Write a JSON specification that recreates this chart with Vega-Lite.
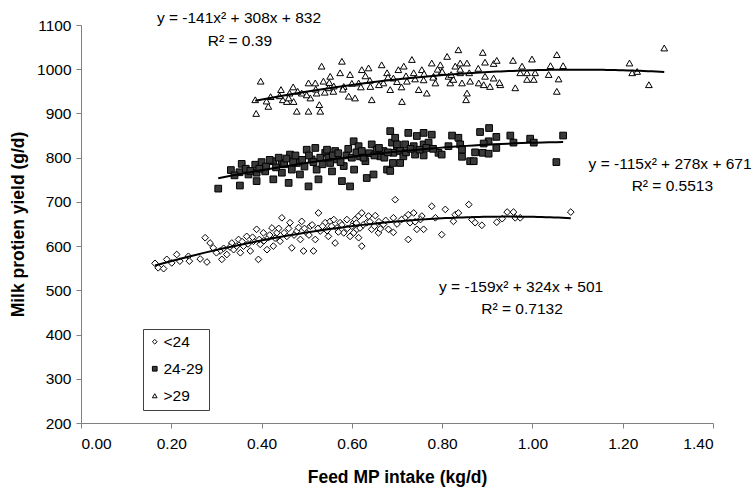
{
  "$schema": "https://vega.github.io/schema/vega-lite/v6.json",
  "width": 632,
  "height": 398,
  "autosize": "none",
  "padding": {"left": 81, "top": 25, "right": 43, "bottom": 64},
  "background": "white",
  "config": {
    "view": {"stroke": null},
    "font": "Liberation Sans",
    "axis": {
      "grid": false,
      "labelFont": "Liberation Sans",
      "labelFontSize": 15.5,
      "labelColor": "black",
      "titleFont": "Liberation Sans",
      "titleFontSize": 17.5,
      "titleFontWeight": "bold",
      "titleColor": "black",
      "domainColor": "#808080",
      "tickColor": "#808080",
      "tickSize": 5
    },
    "legend": {
      "orient": "none",
      "legendX": 62,
      "legendY": 304,
      "padding": 5,
      "strokeColor": "#404040",
      "fillColor": "white",
      "labelFont": "Liberation Sans",
      "labelFontSize": 15.5,
      "labelColor": "black",
      "symbolSize": 22,
      "symbolStrokeColor": "black",
      "symbolStrokeWidth": 1,
      "symbolOffset": -1,
      "rowPadding": 10,
      "labelOffset": 1,
      "cornerRadius": 0
    }
  },
  "datasets": {
    "pts": [
      {"intake":0.164,"yield":561,"group":"<24"},{"intake":0.171,"yield":551,"group":"<24"},{"intake":0.183,"yield":549,"group":"<24"},{"intake":0.190,"yield":570,"group":"<24"},{"intake":0.201,"yield":562,"group":"<24"},{"intake":0.212,"yield":581,"group":"<24"},{"intake":0.219,"yield":566,"group":"<24"},{"intake":0.238,"yield":577,"group":"<24"},{"intake":0.240,"yield":566,"group":"<24"},{"intake":0.264,"yield":571,"group":"<24"},{"intake":0.275,"yield":619,"group":"<24"},{"intake":0.279,"yield":564,"group":"<24"},{"intake":0.286,"yield":607,"group":"<24"},{"intake":0.293,"yield":596,"group":"<24"},{"intake":0.308,"yield":589,"group":"<24"},{"intake":0.312,"yield":570,"group":"<24"},{"intake":0.323,"yield":581,"group":"<24"},{"intake":0.334,"yield":607,"group":"<24"},{"intake":0.338,"yield":592,"group":"<24"},{"intake":0.349,"yield":615,"group":"<24"},{"intake":0.353,"yield":585,"group":"<24"},{"intake":0.360,"yield":600,"group":"<24"},{"intake":0.367,"yield":622,"group":"<24"},{"intake":0.375,"yield":589,"group":"<24"},{"intake":0.382,"yield":611,"group":"<24"},{"intake":0.389,"yield":638,"group":"<24"},{"intake":0.393,"yield":570,"group":"<24"},{"intake":0.397,"yield":604,"group":"<24"},{"intake":0.404,"yield":630,"group":"<24"},{"intake":0.412,"yield":592,"group":"<24"},{"intake":0.415,"yield":619,"group":"<24"},{"intake":0.423,"yield":641,"group":"<24"},{"intake":0.426,"yield":600,"group":"<24"},{"intake":0.434,"yield":630,"group":"<24"},{"intake":0.445,"yield":664,"group":"<24"},{"intake":0.441,"yield":611,"group":"<24"},{"intake":0.456,"yield":622,"group":"<24"},{"intake":0.463,"yield":653,"group":"<24"},{"intake":0.467,"yield":596,"group":"<24"},{"intake":0.478,"yield":634,"group":"<24"},{"intake":0.486,"yield":615,"group":"<24"},{"intake":0.489,"yield":656,"group":"<24"},{"intake":0.493,"yield":589,"group":"<24"},{"intake":0.500,"yield":630,"group":"<24"},{"intake":0.508,"yield":645,"group":"<24"},{"intake":0.515,"yield":589,"group":"<24"},{"intake":0.519,"yield":615,"group":"<24"},{"intake":0.526,"yield":675,"group":"<24"},{"intake":0.530,"yield":634,"group":"<24"},{"intake":0.541,"yield":653,"group":"<24"},{"intake":0.548,"yield":622,"group":"<24"},{"intake":0.552,"yield":656,"group":"<24"},{"intake":0.563,"yield":607,"group":"<24"},{"intake":0.567,"yield":641,"group":"<24"},{"intake":0.574,"yield":653,"group":"<24"},{"intake":0.582,"yield":630,"group":"<24"},{"intake":0.589,"yield":660,"group":"<24"},{"intake":0.596,"yield":622,"group":"<24"},{"intake":0.604,"yield":653,"group":"<24"},{"intake":0.611,"yield":638,"group":"<24"},{"intake":0.615,"yield":668,"group":"<24"},
      {"intake":0.696,"yield":705,"group":"<24"},{"intake":0.607,"yield":660,"group":"<24"},{"intake":0.622,"yield":675,"group":"<24"},{"intake":0.637,"yield":668,"group":"<24"},{"intake":0.652,"yield":669,"group":"<24"},{"intake":0.618,"yield":641,"group":"<24"},{"intake":0.633,"yield":653,"group":"<24"},{"intake":0.644,"yield":638,"group":"<24"},{"intake":0.659,"yield":630,"group":"<24"},{"intake":0.615,"yield":619,"group":"<24"},{"intake":0.622,"yield":600,"group":"<24"},{"intake":0.604,"yield":630,"group":"<24"},{"intake":0.692,"yield":664,"group":"<24"},{"intake":0.681,"yield":638,"group":"<24"},{"intake":0.692,"yield":631,"group":"<24"},{"intake":0.718,"yield":664,"group":"<24"},{"intake":0.729,"yield":653,"group":"<24"},{"intake":0.737,"yield":675,"group":"<24"},{"intake":0.725,"yield":615,"group":"<24"},{"intake":0.744,"yield":638,"group":"<24"},{"intake":0.755,"yield":668,"group":"<24"},{"intake":0.759,"yield":638,"group":"<24"},{"intake":0.777,"yield":690,"group":"<24"},{"intake":0.785,"yield":664,"group":"<24"},{"intake":0.799,"yield":626,"group":"<24"},{"intake":0.807,"yield":683,"group":"<24"},{"intake":0.825,"yield":656,"group":"<24"},{"intake":0.829,"yield":671,"group":"<24"},{"intake":0.836,"yield":675,"group":"<24"},{"intake":0.859,"yield":694,"group":"<24"},{"intake":0.866,"yield":660,"group":"<24"},{"intake":0.873,"yield":653,"group":"<24"},{"intake":0.888,"yield":647,"group":"<24"},{"intake":0.921,"yield":654,"group":"<24"},{"intake":0.933,"yield":662,"group":"<24"},{"intake":0.944,"yield":677,"group":"<24"},{"intake":0.958,"yield":677,"group":"<24"},{"intake":0.962,"yield":664,"group":"<24"},{"intake":0.973,"yield":664,"group":"<24"},{"intake":1.085,"yield":677,"group":"<24"},{"intake":0.670,"yield":649,"group":"<24"},{"intake":0.663,"yield":639,"group":"<24"},{"intake":0.725,"yield":671,"group":"<24"},{"intake":0.752,"yield":660,"group":"<24"},
      {"intake":0.300,"yield":585,"group":"<24"},{"intake":0.316,"yield":595,"group":"<24"},{"intake":0.330,"yield":598,"group":"<24"},{"intake":0.345,"yield":600,"group":"<24"},{"intake":0.357,"yield":610,"group":"<24"},{"intake":0.370,"yield":605,"group":"<24"},{"intake":0.380,"yield":620,"group":"<24"},{"intake":0.395,"yield":615,"group":"<24"},{"intake":0.405,"yield":612,"group":"<24"},{"intake":0.418,"yield":625,"group":"<24"},{"intake":0.430,"yield":618,"group":"<24"},{"intake":0.438,"yield":640,"group":"<24"},{"intake":0.450,"yield":630,"group":"<24"},{"intake":0.460,"yield":640,"group":"<24"},{"intake":0.472,"yield":625,"group":"<24"},{"intake":0.482,"yield":642,"group":"<24"},{"intake":0.495,"yield":640,"group":"<24"},{"intake":0.505,"yield":625,"group":"<24"},{"intake":0.512,"yield":648,"group":"<24"},{"intake":0.525,"yield":640,"group":"<24"},{"intake":0.535,"yield":645,"group":"<24"},{"intake":0.545,"yield":635,"group":"<24"},{"intake":0.555,"yield":645,"group":"<24"},{"intake":0.560,"yield":660,"group":"<24"},{"intake":0.570,"yield":632,"group":"<24"},{"intake":0.578,"yield":648,"group":"<24"},{"intake":0.590,"yield":640,"group":"<24"},{"intake":0.600,"yield":645,"group":"<24"},{"intake":0.610,"yield":652,"group":"<24"},{"intake":0.625,"yield":648,"group":"<24"},{"intake":0.640,"yield":655,"group":"<24"},{"intake":0.650,"yield":645,"group":"<24"},{"intake":0.660,"yield":655,"group":"<24"},{"intake":0.675,"yield":658,"group":"<24"},{"intake":0.700,"yield":650,"group":"<24"},{"intake":0.710,"yield":660,"group":"<24"},{"intake":0.740,"yield":655,"group":"<24"},
      {"intake":0.304,"yield":730,"group":"24-29"},{"intake":0.332,"yield":772,"group":"24-29"},{"intake":0.352,"yield":737,"group":"24-29"},{"intake":0.356,"yield":786,"group":"24-29"},{"intake":0.351,"yield":767,"group":"24-29"},{"intake":0.371,"yield":762,"group":"24-29"},{"intake":0.386,"yield":784,"group":"24-29"},{"intake":0.389,"yield":766,"group":"24-29"},{"intake":0.389,"yield":747,"group":"24-29"},{"intake":0.408,"yield":769,"group":"24-29"},{"intake":0.426,"yield":751,"group":"24-29"},{"intake":0.426,"yield":792,"group":"24-29"},{"intake":0.445,"yield":788,"group":"24-29"},{"intake":0.445,"yield":766,"group":"24-29"},{"intake":0.463,"yield":807,"group":"24-29"},{"intake":0.460,"yield":743,"group":"24-29"},{"intake":0.467,"yield":773,"group":"24-29"},{"intake":0.478,"yield":788,"group":"24-29"},{"intake":0.485,"yield":762,"group":"24-29"},{"intake":0.500,"yield":818,"group":"24-29"},{"intake":0.504,"yield":735,"group":"24-29"},{"intake":0.511,"yield":796,"group":"24-29"},{"intake":0.519,"yield":822,"group":"24-29"},{"intake":0.522,"yield":773,"group":"24-29"},{"intake":0.526,"yield":751,"group":"24-29"},{"intake":0.541,"yield":811,"group":"24-29"},{"intake":0.545,"yield":818,"group":"24-29"},{"intake":0.552,"yield":788,"group":"24-29"},{"intake":0.556,"yield":769,"group":"24-29"},{"intake":0.563,"yield":815,"group":"24-29"},{"intake":0.567,"yield":796,"group":"24-29"},{"intake":0.578,"yield":747,"group":"24-29"},{"intake":0.582,"yield":781,"group":"24-29"},{"intake":0.596,"yield":735,"group":"24-29"},{"intake":0.604,"yield":837,"group":"24-29"},{"intake":0.605,"yield":773,"group":"24-29"},{"intake":0.615,"yield":826,"group":"24-29"},{"intake":0.618,"yield":803,"group":"24-29"},{"intake":0.630,"yield":792,"group":"24-29"},{"intake":0.633,"yield":754,"group":"24-29"},{"intake":0.644,"yield":830,"group":"24-29"},{"intake":0.648,"yield":762,"group":"24-29"},{"intake":0.655,"yield":818,"group":"24-29"},{"intake":0.663,"yield":803,"group":"24-29"},{"intake":0.670,"yield":815,"group":"24-29"},{"intake":0.678,"yield":773,"group":"24-29"},{"intake":0.685,"yield":860,"group":"24-29"},{"intake":0.689,"yield":834,"group":"24-29"},{"intake":0.696,"yield":845,"group":"24-29"},{"intake":0.700,"yield":818,"group":"24-29"},{"intake":0.691,"yield":788,"group":"24-29"},
      {"intake":0.725,"yield":856,"group":"24-29"},{"intake":0.759,"yield":856,"group":"24-29"},{"intake":0.777,"yield":852,"group":"24-29"},{"intake":0.744,"yield":849,"group":"24-29"},{"intake":0.700,"yield":830,"group":"24-29"},{"intake":0.718,"yield":830,"group":"24-29"},{"intake":0.737,"yield":826,"group":"24-29"},{"intake":0.759,"yield":830,"group":"24-29"},{"intake":0.770,"yield":834,"group":"24-29"},{"intake":0.822,"yield":850,"group":"24-29"},{"intake":0.836,"yield":845,"group":"24-29"},{"intake":0.840,"yield":830,"group":"24-29"},{"intake":0.884,"yield":858,"group":"24-29"},{"intake":0.904,"yield":867,"group":"24-29"},{"intake":0.920,"yield":847,"group":"24-29"},{"intake":0.903,"yield":837,"group":"24-29"},{"intake":0.892,"yield":832,"group":"24-29"},{"intake":0.951,"yield":850,"group":"24-29"},{"intake":0.958,"yield":834,"group":"24-29"},{"intake":0.995,"yield":843,"group":"24-29"},{"intake":1.003,"yield":834,"group":"24-29"},{"intake":1.068,"yield":850,"group":"24-29"},{"intake":1.053,"yield":790,"group":"24-29"},{"intake":0.814,"yield":826,"group":"24-29"},{"intake":0.792,"yield":811,"group":"24-29"},{"intake":0.799,"yield":807,"group":"24-29"},{"intake":0.844,"yield":818,"group":"24-29"},{"intake":0.873,"yield":812,"group":"24-29"},{"intake":0.890,"yield":811,"group":"24-29"},{"intake":0.903,"yield":809,"group":"24-29"},{"intake":0.920,"yield":822,"group":"24-29"},{"intake":0.692,"yield":811,"group":"24-29"},{"intake":0.707,"yield":815,"group":"24-29"},{"intake":0.714,"yield":803,"group":"24-29"},{"intake":0.707,"yield":788,"group":"24-29"},{"intake":0.740,"yield":807,"group":"24-29"},{"intake":0.759,"yield":805,"group":"24-29"},{"intake":0.844,"yield":802,"group":"24-29"},{"intake":0.862,"yield":792,"group":"24-29"},{"intake":0.870,"yield":792,"group":"24-29"},{"intake":0.685,"yield":770,"group":"24-29"},
      {"intake":0.340,"yield":760,"group":"24-29"},{"intake":0.365,"yield":775,"group":"24-29"},{"intake":0.375,"yield":770,"group":"24-29"},{"intake":0.395,"yield":775,"group":"24-29"},{"intake":0.400,"yield":790,"group":"24-29"},{"intake":0.410,"yield":780,"group":"24-29"},{"intake":0.418,"yield":795,"group":"24-29"},{"intake":0.432,"yield":778,"group":"24-29"},{"intake":0.438,"yield":800,"group":"24-29"},{"intake":0.450,"yield":785,"group":"24-29"},{"intake":0.455,"yield":798,"group":"24-29"},{"intake":0.470,"yield":790,"group":"24-29"},{"intake":0.475,"yield":805,"group":"24-29"},{"intake":0.490,"yield":795,"group":"24-29"},{"intake":0.495,"yield":780,"group":"24-29"},{"intake":0.505,"yield":805,"group":"24-29"},{"intake":0.515,"yield":790,"group":"24-29"},{"intake":0.530,"yield":800,"group":"24-29"},{"intake":0.535,"yield":785,"group":"24-29"},{"intake":0.548,"yield":800,"group":"24-29"},{"intake":0.558,"yield":805,"group":"24-29"},{"intake":0.570,"yield":810,"group":"24-29"},{"intake":0.575,"yield":790,"group":"24-29"},{"intake":0.588,"yield":805,"group":"24-29"},{"intake":0.592,"yield":820,"group":"24-29"},{"intake":0.600,"yield":800,"group":"24-29"},{"intake":0.610,"yield":812,"group":"24-29"},{"intake":0.622,"yield":815,"group":"24-29"},{"intake":0.626,"yield":800,"group":"24-29"},{"intake":0.638,"yield":810,"group":"24-29"},{"intake":0.650,"yield":805,"group":"24-29"},{"intake":0.660,"yield":822,"group":"24-29"},{"intake":0.672,"yield":800,"group":"24-29"},{"intake":0.680,"yield":812,"group":"24-29"},{"intake":0.720,"yield":812,"group":"24-29"},{"intake":0.730,"yield":820,"group":"24-29"},{"intake":0.750,"yield":818,"group":"24-29"},{"intake":0.765,"yield":822,"group":"24-29"},{"intake":0.780,"yield":820,"group":"24-29"},
      {"intake":0.386,"yield":931,"group":">29"},{"intake":0.388,"yield":900,"group":">29"},{"intake":0.398,"yield":973,"group":">29"},{"intake":0.415,"yield":916,"group":">29"},{"intake":0.411,"yield":928,"group":">29"},{"intake":0.443,"yield":954,"group":">29"},{"intake":0.447,"yield":931,"group":">29"},{"intake":0.462,"yield":946,"group":">29"},{"intake":0.456,"yield":927,"group":">29"},{"intake":0.471,"yield":927,"group":">29"},{"intake":0.478,"yield":905,"group":">29"},{"intake":0.504,"yield":905,"group":">29"},{"intake":0.489,"yield":946,"group":">29"},{"intake":0.504,"yield":969,"group":">29"},{"intake":0.508,"yield":935,"group":">29"},{"intake":0.528,"yield":920,"group":">29"},{"intake":0.530,"yield":905,"group":">29"},{"intake":0.533,"yield":1007,"group":">29"},{"intake":0.537,"yield":973,"group":">29"},{"intake":0.519,"yield":969,"group":">29"},{"intake":0.522,"yield":946,"group":">29"},{"intake":0.552,"yield":984,"group":">29"},{"intake":0.548,"yield":958,"group":">29"},{"intake":0.559,"yield":950,"group":">29"},{"intake":0.578,"yield":1018,"group":">29"},{"intake":0.574,"yield":992,"group":">29"},{"intake":0.582,"yield":961,"group":">29"},{"intake":0.596,"yield":988,"group":">29"},{"intake":0.593,"yield":939,"group":">29"},{"intake":0.607,"yield":935,"group":">29"},{"intake":0.615,"yield":969,"group":">29"},{"intake":0.622,"yield":999,"group":">29"},{"intake":0.637,"yield":1003,"group":">29"},{"intake":0.641,"yield":961,"group":">29"},{"intake":0.644,"yield":931,"group":">29"},{"intake":0.666,"yield":1010,"group":">29"},{"intake":0.670,"yield":969,"group":">29"},{"intake":0.678,"yield":992,"group":">29"},{"intake":0.685,"yield":954,"group":">29"},{"intake":0.692,"yield":980,"group":">29"},{"intake":0.703,"yield":999,"group":">29"},{"intake":0.711,"yield":927,"group":">29"},{"intake":0.715,"yield":1007,"group":">29"},{"intake":0.722,"yield":973,"group":">29"},{"intake":0.733,"yield":1022,"group":">29"},{"intake":0.737,"yield":992,"group":">29"},{"intake":0.748,"yield":954,"group":">29"},{"intake":0.755,"yield":999,"group":">29"},{"intake":0.759,"yield":976,"group":">29"},{"intake":0.766,"yield":946,"group":">29"},{"intake":0.777,"yield":1014,"group":">29"},{"intake":0.781,"yield":984,"group":">29"},{"intake":0.785,"yield":969,"group":">29"},{"intake":0.796,"yield":1010,"group":">29"},{"intake":0.799,"yield":995,"group":">29"},{"intake":0.811,"yield":1029,"group":">29"},{"intake":0.814,"yield":984,"group":">29"},{"intake":0.818,"yield":969,"group":">29"},{"intake":0.829,"yield":1007,"group":">29"},{"intake":0.836,"yield":1044,"group":">29"},{"intake":0.840,"yield":992,"group":">29"},
      {"intake":0.890,"yield":1038,"group":">29"},{"intake":0.840,"yield":1014,"group":">29"},{"intake":0.855,"yield":1014,"group":">29"},{"intake":0.895,"yield":1016,"group":">29"},{"intake":0.914,"yield":1013,"group":">29"},{"intake":0.921,"yield":1020,"group":">29"},{"intake":0.957,"yield":1020,"group":">29"},{"intake":0.999,"yield":1023,"group":">29"},{"intake":1.054,"yield":1033,"group":">29"},{"intake":1.040,"yield":1008,"group":">29"},{"intake":1.068,"yield":1008,"group":">29"},{"intake":0.977,"yield":1007,"group":">29"},{"intake":0.973,"yield":992,"group":">29"},{"intake":0.988,"yield":992,"group":">29"},{"intake":1.006,"yield":992,"group":">29"},{"intake":1.036,"yield":988,"group":">29"},{"intake":1.003,"yield":977,"group":">29"},{"intake":0.988,"yield":977,"group":">29"},{"intake":1.058,"yield":978,"group":">29"},{"intake":1.054,"yield":950,"group":">29"},{"intake":0.962,"yield":958,"group":">29"},{"intake":0.929,"yield":965,"group":">29"},{"intake":0.906,"yield":961,"group":">29"},{"intake":0.892,"yield":965,"group":">29"},{"intake":0.881,"yield":969,"group":">29"},{"intake":0.862,"yield":973,"group":">29"},{"intake":0.855,"yield":946,"group":">29"},{"intake":0.853,"yield":931,"group":">29"},{"intake":0.844,"yield":969,"group":">29"},{"intake":0.825,"yield":977,"group":">29"},{"intake":0.895,"yield":984,"group":">29"},{"intake":0.914,"yield":980,"group":">29"},{"intake":0.927,"yield":970,"group":">29"},{"intake":1.215,"yield":1014,"group":">29"},{"intake":1.221,"yield":992,"group":">29"},{"intake":1.232,"yield":995,"group":">29"},{"intake":1.258,"yield":965,"group":">29"},{"intake":1.292,"yield":1048,"group":">29"},
      {"intake":0.42,"yield":938,"group":">29"},{"intake":0.44,"yield":940,"group":">29"},{"intake":0.46,"yield":935,"group":">29"},{"intake":0.48,"yield":950,"group":">29"},{"intake":0.50,"yield":942,"group":">29"},{"intake":0.52,"yield":955,"group":">29"},{"intake":0.54,"yield":948,"group":">29"},{"intake":0.56,"yield":962,"group":">29"},{"intake":0.58,"yield":955,"group":">29"},{"intake":0.60,"yield":968,"group":">29"},{"intake":0.62,"yield":960,"group":">29"},{"intake":0.64,"yield":975,"group":">29"},{"intake":0.66,"yield":965,"group":">29"},{"intake":0.68,"yield":982,"group":">29"},{"intake":0.70,"yield":972,"group":">29"},{"intake":0.72,"yield":985,"group":">29"},{"intake":0.74,"yield":978,"group":">29"},{"intake":0.76,"yield":990,"group":">29"},{"intake":0.78,"yield":982,"group":">29"},{"intake":0.80,"yield":995,"group":">29"},{"intake":0.82,"yield":988,"group":">29"},{"intake":0.84,"yield":1000,"group":">29"},{"intake":0.86,"yield":992,"group":">29"},{"intake":0.88,"yield":1002,"group":">29"},{"intake":0.47,"yield":960,"group":">29"},{"intake":0.55,"yield":970,"group":">29"},{"intake":0.63,"yield":985,"group":">29"},{"intake":0.71,"yield":960,"group":">29"},{"intake":0.79,"yield":1000,"group":">29"}
    ],
    "notes": [
      {"intake":0.350,"yield":1115,"label":"y = -141x² + 308x + 832"},
      {"intake":0.352,"yield":1063,"label":"R² = 0.39"},
      {"intake":1.305,"yield":785,"label":"y = -115x² + 278x + 671"},
      {"intake":1.310,"yield":736,"label":"R² = 0.5513"},
      {"intake":0.975,"yield":507,"label":"y = -159x² + 324x + 501"},
      {"intake":0.977,"yield":457,"label":"R² = 0.7132"}
    ]
  },
  "layer": [
    {
      "data": {"name": "pts"},
      "mark": {"type": "point", "filled": true, "opacity": 1, "strokeWidth": 1, "size": 45},
      "encoding": {
        "x": {"field": "intake", "type": "quantitative",
          "scale": {"domain": [0, 1.4], "nice": false, "zero": false},
          "axis": {"title": "Feed MP intake (kg/d)", "values": [0, 0.2, 0.4, 0.6, 0.8, 1.0, 1.2, 1.4], "format": ".2f", "labelPadding": 8, "titlePadding": 17}},
        "y": {"field": "yield", "type": "quantitative",
          "scale": {"domain": [200, 1100], "nice": false, "zero": false},
          "axis": {"title": "Milk protien yield (g/d)", "values": [200, 300, 400, 500, 600, 700, 800, 900, 1000, 1100], "format": "d", "labelPadding": 5, "titlePadding": 9}},
        "shape": {"field": "group", "type": "nominal", "title": null,
          "scale": {"domain": ["<24", "24-29", ">29"], "range": ["diamond", "square", "triangle-up"]}},
        "fill": {"field": "group", "type": "nominal", "title": null,
          "scale": {"domain": ["<24", "24-29", ">29"], "range": ["white", "#3a3a3a", "white"]}},
        "stroke": {"field": "group", "type": "nominal", "title": null,
          "scale": {"domain": ["<24", "24-29", ">29"], "range": ["black", "black", "black"]}}
      }
    },
    {
      "data": {"name": "pts"},
      "transform": [
        {"regression": "yield", "on": "intake", "groupby": ["group"], "method": "poly", "order": 2}
      ],
      "mark": {"type": "line", "color": "black", "strokeWidth": 2},
      "encoding": {
        "x": {"field": "intake", "type": "quantitative"},
        "y": {"field": "yield", "type": "quantitative"},
        "detail": {"field": "group", "type": "nominal"}
      }
    },
    {
      "data": {"name": "notes"},
      "mark": {"type": "text", "font": "Liberation Sans", "fontSize": 15.5, "align": "center", "baseline": "middle", "color": "black", "clip": false},
      "encoding": {
        "x": {"field": "intake", "type": "quantitative"},
        "y": {"field": "yield", "type": "quantitative"},
        "text": {"field": "label", "type": "nominal"}
      }
    }
  ]
}
